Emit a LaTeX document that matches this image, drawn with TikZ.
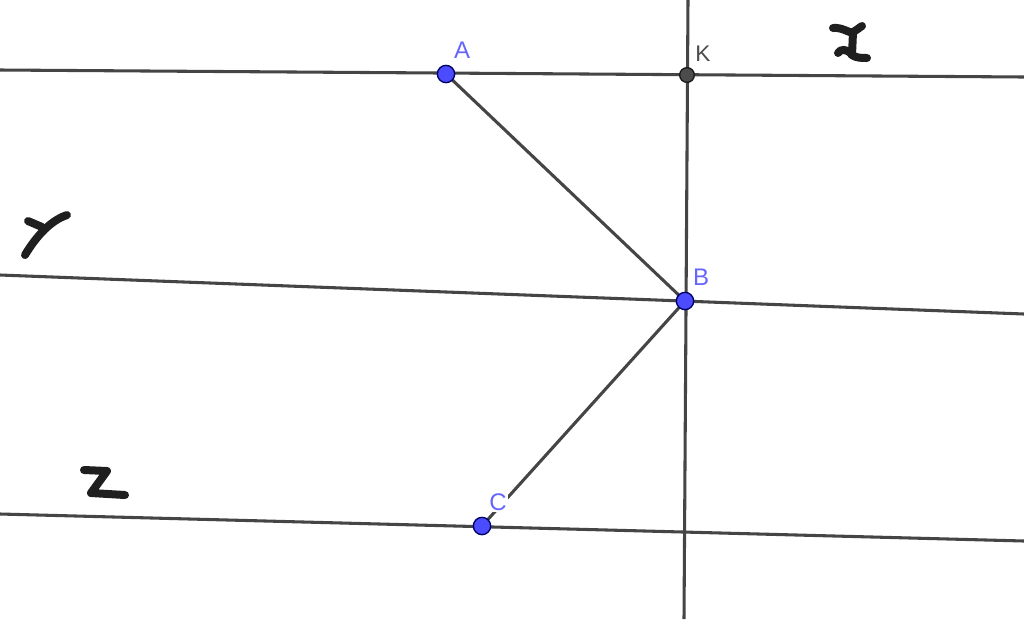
\documentclass[tikz,border=0pt]{standalone}
\usepackage{fontspec}
\setsansfont{Liberation Sans}
\begin{document}
\begin{tikzpicture}[x=0.75pt,y=-0.75pt,
  geo/.style={draw=black!73, line width=2.3pt},
  hand/.style={draw=black!88, line width=6pt, line cap=round, line join=round},
  bluept/.style={circle, fill=blue!70!white, draw=blue!40!black, line width=1pt, minimum size=13pt, inner sep=0pt},
  graypt/.style={circle, fill=black!70, draw=black!90, line width=1pt, minimum size=11pt, inner sep=0pt},
  lbl/.style={font=\sffamily\fontsize{18}{18}\selectfont, text=blue!60!white, inner sep=0pt},
  klbl/.style={font=\sffamily\fontsize{17}{17}\selectfont, text=black!70, inner sep=0pt}]
\useasboundingbox[fill=white] (0,0) rectangle (1024,619);
% point positions
\coordinate (A) at (446,74);
\coordinate (K) at (687,75);
\coordinate (B) at (685,301);
\coordinate (C) at (482,526);
% line ends
\coordinate (x1) at (0,70);   \coordinate (x2) at (1024,77);
\coordinate (y1) at (0,275);  \coordinate (y2) at (1024,314);
\coordinate (z1) at (0,514);  \coordinate (z2) at (1024,541);
\coordinate (v1) at (688,0);  \coordinate (v2) at (684,619);
% lines
\draw[geo] (x1) -- (x2);
\draw[geo] (y1) -- (y2);
\draw[geo] (z1) -- (z2);
\draw[geo] (v1) -- (v2);
\draw[geo] (A) -- (B);
\draw[geo] (B) -- (C);
% points
\node[bluept] (pA) at (A) {};
\node[graypt] (pK) at (K) {};
\node[bluept] (pB) at (B) {};
\node[bluept] (pC) at (C) {};
% labels
\node[lbl] (lA) at (462,50) {A};
\node[klbl] (lK) at (703,54) {K};
\node[lbl] (lB) at (701,277) {B};
\node[lbl, fill=white, inner sep=1pt] (lC) at (498,502) {C};
% handwritten x
\draw[hand] (833,28) .. controls (843,27) and (850,34) .. (853,32) .. controls (857,30) and (860,27) .. (862,26);
\draw[hand] (853,32) -- (852,55) .. controls (856,58) and (862,58) .. (867,58);
\draw[hand] (838,53) .. controls (840,49) and (847,48) .. (852,55);
% handwritten y
\draw[hand] (28,221) -- (42,227);
\draw[hand] (67,215) .. controls (55,219) and (40,230) .. (25,255);
% handwritten z
\draw[hand] (84,470) -- (107,471) -- (91,493) -- (125,495);
\end{tikzpicture}
\end{document}
